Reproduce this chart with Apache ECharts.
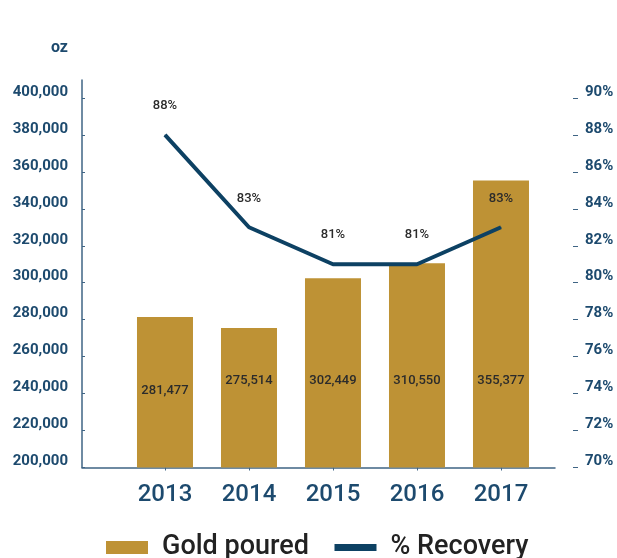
<!DOCTYPE html>
<html><head><meta charset="utf-8">
<script src="https://cdn.jsdelivr.net/npm/echarts@6/dist/echarts.min.js"></script>
<style>html,body{margin:0;padding:0;background:#fff}#c{width:617px;height:558px}</style>
</head><body><div id="c"></div>
<script>
const years = ['2013','2014','2015','2016','2017'];
const goldPoured = [281477, 275514, 302449, 310550, 355377];
const recovery = [88, 83, 81, 81, 83];
const leftTicks = [200000,220000,240000,260000,280000,300000,320000,340000,360000,380000,400000];
const rightTicks = [70,72,74,76,78,80,82,84,86,88,90];

const axisColor = '#3f6484';
const labelColor = '#1d4a6e';
const idx = years.map((y,i)=>i);

const chart = echarts.init(document.getElementById('c'));
chart.setOption({
  animation:false,
  textStyle:{fontFamily:'Roboto'},
  grid:{left:82,right:62,top:80,bottom:90.5},
  legend:{
    top:534,left:106,padding:0,itemWidth:42,itemHeight:13,itemGap:22,
    textStyle:{fontSize:27,color:'#222',fontFamily:'Roboto',fontWeight:500,padding:[0,0,0,9]},
    data:[{name:'Gold poured',icon:'rect'},
          {name:'% Recovery',lineStyle:{width:7,color:'#0d4163'},itemStyle:{opacity:0}}]
  },
  xAxis:{
    type:'value',min:-0.988,max:4.643,
    splitLine:{show:false},
    axisLine:{show:true,onZero:false,lineStyle:{color:axisColor,width:1.5}},
    axisTick:{show:true,length:3,customValues:idx,lineStyle:{color:axisColor}},
    axisLabel:{customValues:idx,formatter:v=>years[Math.round(v)],fontSize:24,fontWeight:500,color:labelColor,margin:15}
  },
  yAxis:[{
    type:'value',min:200000,max:409700,
    name:'oz',nameLocation:'end',nameGap:24,
    nameTextStyle:{color:labelColor,fontWeight:'bold',fontSize:16,align:'right',padding:[0,14,0,0]},
    splitLine:{show:false},
    axisLine:{show:true,onZero:false,lineStyle:{color:axisColor,width:1.5}},
    axisTick:{show:true,inside:true,length:3,customValues:leftTicks,lineStyle:{color:axisColor}},
    axisLabel:{customValues:leftTicks,formatter:v=>v.toLocaleString('en-US'),color:labelColor,fontWeight:'bold',fontSize:15,margin:14,verticalAlign:'bottom',lineHeight:12}
  },{
    type:'value',min:70,max:90.97,position:'right',offset:18,
    splitLine:{show:false},
    axisLine:{show:false,onZero:false},
    axisTick:{show:true,length:5,customValues:rightTicks,lineStyle:{color:axisColor}},
    axisLabel:{customValues:rightTicks,formatter:v=>v+'%',color:labelColor,fontWeight:'bold',fontSize:15,margin:12,verticalAlign:'bottom',lineHeight:12}
  }],
  series:[{
    name:'Gold poured',type:'bar',yAxisIndex:0,barWidth:56,
    itemStyle:{color:'#BE9235'},
    data:goldPoured.map((v,i)=>({value:[i,v],label:i===0?{distance:70}:undefined})),
    label:{show:true,position:'insideBottom',distance:80,color:'#2b2b2b',fontSize:13,fontWeight:500,
      formatter:p=>p.value[1].toLocaleString('en-US')}
  },{
    name:'% Recovery',type:'line',yAxisIndex:1,symbol:'circle',symbolSize:1,showSymbol:true,
    lineStyle:{color:'#0d4163',width:4},itemStyle:{color:'#0d4163'},
    data:recovery.map((v,i)=>[i,v]),
    label:{show:true,position:'top',distance:22,color:'#2b2b2b',fontSize:13,fontWeight:500,
      formatter:p=>p.value[1]+'%'}
  }]
});
</script></body></html>
